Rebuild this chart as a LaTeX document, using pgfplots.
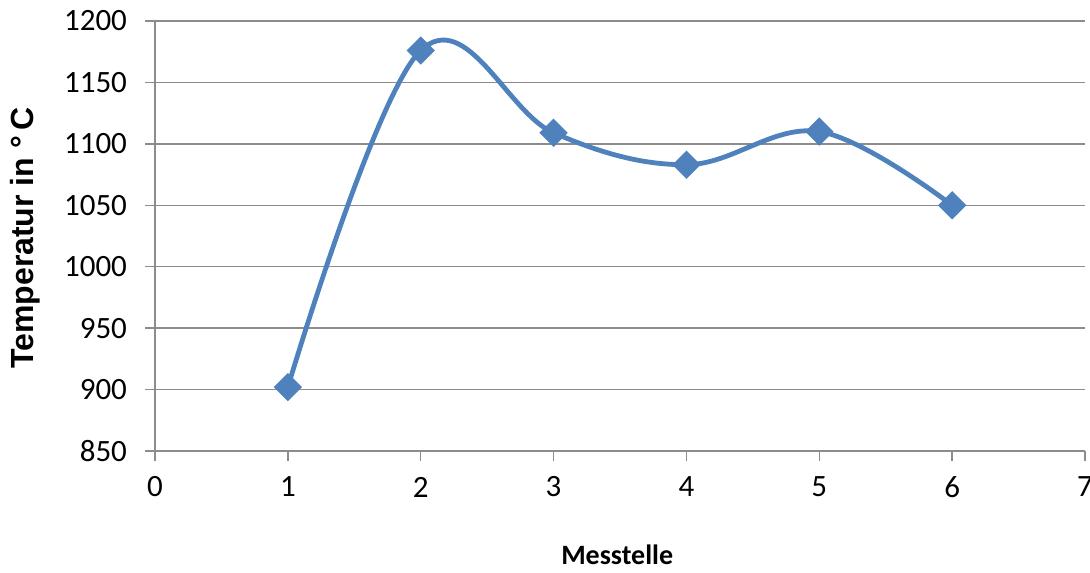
\documentclass[border=0pt]{standalone}
\usepackage{pgfplots}
\pgfplotsset{compat=1.18}
\usepackage{fontspec}
\setmainfont{Carlito}
\newfontfamily\arialfont{Liberation Sans}

\definecolor{seriesblue}{HTML}{4F81BD}
\definecolor{gridgray}{HTML}{8C8C8C}

\pgfplotstableread{
x   temp
1   902
2   1176
3   1109
4   1083
5   1110
6   1050
}\messdata

\begin{document}
\begin{tikzpicture}[x=1pt,y=1pt]
\useasboundingbox (0,0) rectangle (545,286);
\begin{axis}[
  at={(77.5pt,60.5pt)}, anchor=south west,
  scale only axis,
  width=465pt, height=215pt,
  xmin=0, xmax=7, ymin=850, ymax=1200,
  xtick={0,...,7}, ytick={850,900,...,1200},
  axis x line=bottom, axis y line=left,
  axis line style={-, gridgray, line width=0.75pt},
  tick style={gridgray, line width=0.75pt},
  tick align=outside, major tick length=5pt,
  ymajorgrids, grid style={gridgray, line width=0.75pt},
  clip=false,
  /pgf/number format/assume math mode=true,
  /pgf/number format/1000 sep={},
  tick label style={font=\fontsize{15.5}{18}\selectfont, text=black},
  xticklabel style={anchor=center, yshift=-13pt},
  yticklabel style={anchor=east, xshift=-5.5pt},
  xlabel={\bfseries Messtelle},
  xlabel style={at={(axis description cs:0.497,-0.2419)}, anchor=center,
    font=\fontsize{14}{16}\selectfont},
  ylabel={\arialfont\bfseries Temperatur in °\,C},
  ylabel style={at={(axis description cs:-0.1398,0.495)}, anchor=center,
    font=\fontsize{16}{18}\selectfont},
]
\addplot[seriesblue, line width=2.4pt, smooth, tension=0.62,
  mark=square*, mark size=3.8pt, mark options={rotate=45, solid}]
  table[x=x, y=temp] {\messdata};
\end{axis}
\end{tikzpicture}
\end{document}
